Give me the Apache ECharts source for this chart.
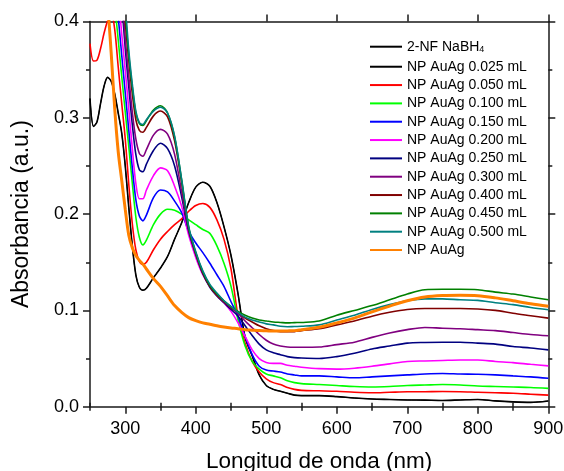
<!DOCTYPE html>
<html>
<head>
<meta charset="utf-8">
<script src="https://cdn.jsdelivr.net/npm/echarts@6/dist/echarts.min.js"></script>
<style>
html,body{margin:0;padding:0;background:#fff;}
#chart{width:564px;height:471px;}
</style>
</head>
<body>
<div id="chart"></div>
<script>
// Wavelength grid (nm)
const wl = [250,255,260,265,270,275,280,285,290,295,300,305,310,315,320,325,330,
  340,350,360,370,380,390,400,410,420,430,440,450,460,470,480,490,500,510,520,530,540,550,
  575,600,625,650,675,700,725,750,775,800,825,850,875,900];

// Absorbance values
const np025 = [0.320,0.291,0.296,0.315,0.333,0.342,0.338,0.325,0.305,0.284,0.250,0.207,0.167,0.137,0.124,0.121,0.123,
  0.134,0.144,0.156,0.174,0.191,0.212,0.228,0.233,0.229,0.212,0.187,0.157,0.117,0.072,0.053,0.033,0.022,0.018,0.016,0.014,0.012,0.0115,
  0.0115,0.0105,0.009,0.008,0.0075,0.007,0.0068,0.0065,0.007,0.0075,0.006,0.005,0.0045,0.006];
const nf2 = np025; // 2-NF NaBH4 overlaps the 0.025 mL curve
const np050 = [0.377,0.359,0.360,0.372,0.388,0.401,0.410,0.392,0.353,0.315,0.278,0.231,0.190,0.163,0.151,0.148,0.150,
  0.163,0.174,0.182,0.189,0.195,0.203,0.209,0.211,0.207,0.194,0.174,0.143,0.094,0.066,0.047,0.036,0.029,0.025,0.023,0.020,0.018,0.017,
  0.0165,0.016,0.015,0.0145,0.015,0.0155,0.0156,0.0158,0.0156,0.015,0.0145,0.014,0.013,0.012];
const np100 = [0.530,0.520,0.510,0.500,0.490,0.475,0.452,0.418,0.381,0.343,0.306,0.270,0.232,0.197,0.176,0.168,0.173,
  0.189,0.200,0.205,0.204,0.200,0.194,0.189,0.184,0.180,0.167,0.149,0.125,0.090,0.063,0.047,0.039,0.034,0.032,0.030,0.027,0.025,0.024,
  0.023,0.022,0.021,0.0205,0.021,0.022,0.0225,0.023,0.0225,0.0215,0.021,0.0205,0.020,0.019];
const np150 = [0.560,0.550,0.540,0.530,0.520,0.500,0.475,0.445,0.405,0.365,0.326,0.287,0.248,0.215,0.198,0.193,0.199,
  0.217,0.225,0.223,0.2135,0.2015,0.182,0.170,0.160,0.149,0.137,0.125,0.109,0.094,0.073,0.054,0.042,0.038,0.037,0.036,0.034,0.033,0.032,
  0.032,0.031,0.030,0.031,0.032,0.033,0.034,0.0345,0.034,0.0337,0.033,0.032,0.031,0.0296];
const np200 = [0.580,0.570,0.560,0.550,0.540,0.525,0.500,0.470,0.430,0.387,0.349,0.309,0.268,0.232,0.216,0.216,0.225,
  0.240,0.248,0.245,0.229,0.208,0.178,0.155,0.137,0.125,0.116,0.108,0.099,0.087,0.073,0.059,0.050,0.046,0.045,0.045,0.043,0.042,0.041,
  0.0395,0.039,0.040,0.042,0.0445,0.047,0.0475,0.048,0.0485,0.0485,0.047,0.0458,0.044,0.0424];
const np250 = [0.600,0.590,0.580,0.570,0.560,0.545,0.525,0.500,0.465,0.420,0.372,0.332,0.293,0.262,0.246,0.244,0.252,
  0.266,0.2735,0.268,0.250,0.218,0.182,0.158,0.138,0.124,0.115,0.108,0.101,0.094,0.084,0.074,0.065,0.059,0.056,0.054,0.052,0.051,0.0505,
  0.050,0.052,0.0555,0.060,0.063,0.066,0.0667,0.067,0.067,0.066,0.065,0.0625,0.061,0.059];
const np300 = [0.620,0.610,0.600,0.590,0.580,0.565,0.545,0.520,0.490,0.435,0.382,0.343,0.306,0.278,0.263,0.260,0.267,
  0.282,0.288,0.283,0.262,0.223,0.184,0.159,0.139,0.125,0.1155,0.1085,0.1025,0.097,0.089,0.082,0.075,0.069,0.065,0.063,0.062,0.0618,0.0618,
  0.062,0.0645,0.067,0.072,0.0765,0.080,0.0823,0.0815,0.081,0.080,0.079,0.077,0.075,0.0736];
const np400 = [0.640,0.630,0.620,0.610,0.600,0.585,0.565,0.540,0.510,0.460,0.400,0.360,0.325,0.298,0.287,0.285,0.290,
  0.302,0.307,0.301,0.276,0.233,0.185,0.159,0.139,0.125,0.116,0.109,0.103,0.098,0.092,0.088,0.084,0.081,0.079,0.078,0.0778,0.078,0.079,
  0.081,0.085,0.089,0.094,0.098,0.101,0.102,0.102,0.102,0.1015,0.100,0.097,0.0945,0.092];
const np450 = [0.650,0.640,0.630,0.620,0.610,0.595,0.575,0.550,0.520,0.470,0.410,0.365,0.332,0.305,0.294,0.292,0.297,
  0.308,0.3125,0.305,0.280,0.235,0.186,0.160,0.140,0.126,0.117,0.110,0.104,0.099,0.095,0.092,0.090,0.089,0.088,0.0875,0.087,0.0873,0.0875,
  0.089,0.095,0.100,0.105,0.111,0.117,0.1215,0.122,0.122,0.1215,0.119,0.117,0.114,0.111];
const np500 = [0.660,0.650,0.640,0.630,0.620,0.605,0.585,0.560,0.530,0.480,0.420,0.370,0.335,0.307,0.295,0.293,0.298,
  0.307,0.311,0.305,0.281,0.236,0.187,0.161,0.141,0.127,0.118,0.110,0.104,0.098,0.093,0.090,0.088,0.086,0.085,0.0835,0.083,0.0833,0.0835,
  0.085,0.090,0.095,0.101,0.106,0.110,0.112,0.112,0.111,0.1104,0.108,0.106,0.103,0.1007];
const npAuAg = [0.620,0.580,0.530,0.490,0.455,0.418,0.368,0.310,0.265,0.235,0.205,0.178,0.165,0.157,0.152,0.148,0.143,
  0.133,0.125,0.115,0.105,0.098,0.0925,0.0893,0.087,0.0856,0.084,0.0827,0.0817,0.081,0.080,0.0795,0.079,0.0788,0.0785,0.0785,0.0787,0.079,0.080,
  0.0825,0.087,0.092,0.0985,0.1045,0.110,0.114,0.1155,0.1158,0.1153,0.113,0.110,0.107,0.1044];

// Series names, colours
const names = ['2-NF NaBH4','NP AuAg 0.025 mL','NP AuAg 0.050 mL','NP AuAg 0.100 mL','NP AuAg 0.150 mL',
  'NP AuAg 0.200 mL','NP AuAg 0.250 mL','NP AuAg 0.300 mL','NP AuAg 0.400 mL','NP AuAg 0.450 mL',
  'NP AuAg 0.500 mL','NP AuAg'];
const values = [nf2,np025,np050,np100,np150,np200,np250,np300,np400,np450,np500,npAuAg];
const colors = ['#000000','#000000','#ff0000','#00ff00','#0000ff','#ff00ff','#000080','#800080','#800000','#008000','#008080','#ff8000'];
const widths = [1,1.6,1.6,1.6,1.6,1.6,1.6,1.6,1.6,1.6,1.6,3];

// Axis ticks
const xMajor = [300,400,500,600,700,800,900];
const xMinor = [250,350,450,550,650,750,850];

const FONT = '"Liberation Sans", Arial, sans-serif';
const AX = {color:'#1a1a1a', width:1.5};

function xAx(pos, ticks, len, labels, extra) {
  return Object.assign({
    type:'value', min:250, max:900, position:pos, gridIndex:0,
    axisLine:{show:true, onZero:false, lineStyle:AX},
    axisTick:{show:true, inside:false, length:len, customValues:ticks, lineStyle:AX},
    axisLabel:{show:labels, customValues:ticks, fontSize:18, color:'#000', fontFamily:FONT, margin:13},
    splitLine:{show:false}
  }, extra||{});
}
function yAx(pos, labels, extra) {
  return Object.assign({
    type:'value', min:0, max:0.4, interval:0.1, position:pos,
    axisLine:{show:true, onZero:false, lineStyle:AX},
    axisTick:{show:true, inside:false, length:7, lineStyle:AX},
    minorTick:{show:true, splitNumber:2, length:4, lineStyle:AX},
    axisLabel:{show:labels, fontSize:18, color:'#000', fontFamily:FONT, margin:11,
      formatter:(v)=>v.toFixed(1)},
    splitLine:{show:false}, minorSplitLine:{show:false}
  }, extra||{});
}

const chart = echarts.init(document.getElementById('chart'), null, {renderer:'canvas'});
const series = names.map((n,i)=>({
  name:n, type:'line', xAxisIndex:0, yAxisIndex:0,
  data: wl.map((w,j)=>[w, values[i][j]]),
  symbol:'none', showSymbol:false, smooth:0.3, clip:true,
  lineStyle:{color:colors[i], width:widths[i]}, itemStyle:{color:colors[i]},
  emphasis:{disabled:true}, z: 2 + i
}));

const legendData = names.map((n,i)=> i===0
  ? {name:n, textStyle:{padding:[1.7,0,1.7,0]}}
  : {name:n});

chart.setOption({
  animation:false,
  textStyle:{fontFamily:FONT},
  grid:{left:90, right:15.7, top:21.5, bottom:64.3, containLabel:false, outerBoundsMode:'none'},
  xAxis:[
    xAx('bottom', xMajor, 7, true, {name:'Longitud de onda (nm)', nameLocation:'middle', nameGap:43.5,
      nameTextStyle:{fontSize:22.5, color:'#000', fontFamily:FONT}}),
    xAx('bottom', xMinor, 4, false, {axisLine:{show:false}}),
    xAx('top', xMajor, 7, false),
    xAx('top', xMinor, 4, false, {axisLine:{show:false}})
  ],
  yAxis:[
    yAx('left', true, {name:'Absorbancia (a.u.)', nameLocation:'middle', nameGap:56.5,
      nameTextStyle:{fontSize:23, color:'#000', fontFamily:FONT}}),
    yAx('right', false)
  ],
  legend:{
    data:legendData, orient:'vertical', left:369, top:38, padding:0,
    itemWidth:32, itemHeight:14, itemGap:4.33, selectedMode:false,
    itemStyle:{color:'transparent', borderColor:'transparent', borderWidth:0, opacity:0},
    formatter:(n)=> n===names[0] ? '2-NF NaBH{s|4}' : n,
    textStyle:{fontSize:14, lineHeight:14, color:'#000', fontFamily:FONT,
      rich:{s:{fontSize:9, lineHeight:0.5, verticalAlign:'bottom', color:'#000', fontFamily:FONT}}}
  },
  series: series
});
</script>
</body>
</html>
